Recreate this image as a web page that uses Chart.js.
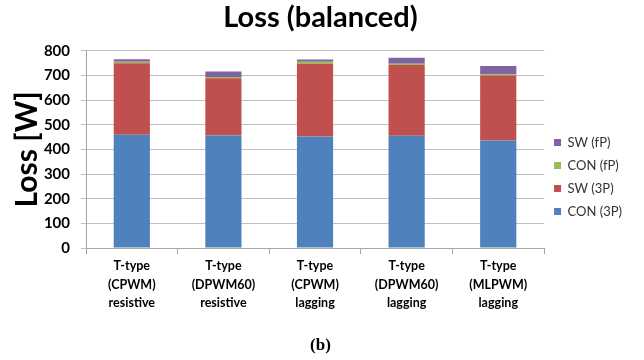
<!DOCTYPE html>
<html>
<head>
<meta charset="utf-8">
<script src="https://cdn.jsdelivr.net/npm/chart.js@4/dist/chart.umd.min.js"></script>
<style>
html,body{margin:0;padding:0;background:#fff;}
#wrap{position:relative;width:644px;height:360px;}
</style>
</head>
<body>
<div id="wrap"><canvas id="c" width="644" height="360"></canvas></div>
<script>
const categories = [
  ["T-type","(CPWM)","resistive"],
  ["T-type","(DPWM60)","resistive"],
  ["T-type","(CPWM)","lagging"],
  ["T-type","(DPWM60)","lagging"],
  ["T-type","(MLPWM)","lagging"]
];
const seriesNames = ["CON (3P)","SW (3P)","CON (fP)","SW (fP)"];
const con3P = [460, 457, 453, 456, 436];
const sw3P  = [290, 232, 293, 286, 264];
const conFP = [6, 5, 10, 5, 5];
const swFP  = [10, 22, 9, 25, 33];
const yTicks = [0,100,200,300,400,500,600,700,800];

const colors = ["#4F81BD","#C0504D","#9BBB59","#8064A2"];
const seriesData = [con3P, sw3P, conFP, swFP];

const legendShift = {
  id: 'legendShift',
  afterLayout(chart) {
    const lg = chart.legend;
    if (lg) { lg.top -= 3; lg.bottom -= 3; }
  }
};

new Chart(document.getElementById('c'), {
  type: 'bar',
  data: {
    labels: categories,
    datasets: seriesData.map((d,i)=>({
      label: seriesNames[i],
      data: d,
      backgroundColor: colors[i],
      borderWidth: 0,
      barPercentage: 0.395,
      categoryPercentage: 1.0
    }))
  },
  plugins: [legendShift],
  options: {
    responsive: false,
    animation: false,
    devicePixelRatio: 1,
    layout: { padding: { left: 9, right: 12, top: 0, bottom: 0 } },
    plugins: {
      title: {
        display: true,
        text: 'Loss (balanced)',
        color: '#000',
        font: { family: 'Lato', size: 29, weight: 'bold', lineHeight: 1.2 },
        padding: { top: 0, bottom: 16 }
      },
      subtitle: {
        display: true,
        position: 'bottom',
        text: '(b)',
        color: '#000',
        font: { family: 'Liberation Serif', size: 17, weight: 'bold', lineHeight: 1.2 },
        padding: { top: 20, bottom: 4 }
      },
      legend: {
        position: 'right',
        reverse: true,
        align: 'center',
        labels: {
          boxWidth: 7,
          boxHeight: 7,
          padding: 10,
          color: '#333',
          font: { family: 'Lato', size: 13 }
        }
      },
      tooltip: { enabled: false }
    },
    scales: {
      x: {
        stacked: true,
        grid: { display: true, drawOnChartArea: false, drawTicks: true, tickLength: 6, color: '#a6a6a6' },
        border: { color: '#a6a6a6' },
        ticks: {
          color: '#000',
          font: { family: 'Lato', size: 12.5, weight: 'bold', lineHeight: 1.48 },
          maxRotation: 0,
          padding: 3
        }
      },
      y: {
        stacked: true,
        min: 0,
        max: 800,
        afterBuildTicks: (axis) => { axis.ticks = yTicks.map(v => ({ value: v })); },
        afterFit: (axis) => { axis.width = 77; },
        grid: { color: '#c0c0c0', tickLength: 5 },
        border: { color: '#a6a6a6' },
        ticks: {
          color: '#000',
          font: { family: 'Lato', size: 15, weight: 'bold' },
          padding: 11
        },
        title: {
          display: true,
          text: 'Loss [W]',
          color: '#000',
          font: { family: 'Lato', size: 30, weight: 'bold', lineHeight: 1.2 },
          padding: { top: 0, bottom: 0 }
        }
      }
    }
  }
});
</script>
</body>
</html>
